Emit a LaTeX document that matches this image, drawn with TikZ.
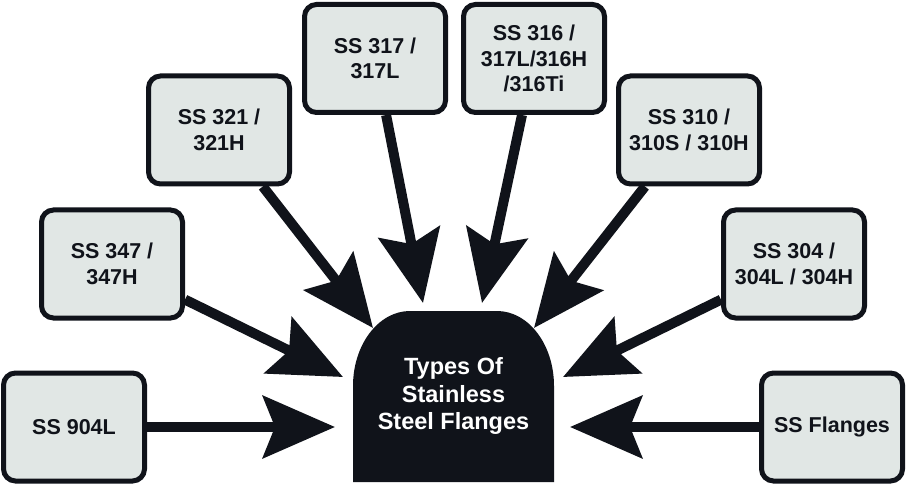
\documentclass[tikz,border=0pt]{standalone}
\usepackage{fontspec}
\setmainfont{Liberation Sans}
\usetikzlibrary{arrows.meta}
\definecolor{ink}{HTML}{10131A}
\definecolor{boxfill}{HTML}{E1E7E5}
\pgfdeclarelayer{background}
\pgfsetlayers{background,main}
\begin{document}
\begin{tikzpicture}[x=1pt,y=1pt,
  gbox/.style={draw=ink, line width=5pt, fill=boxfill, rounded corners=12pt,
    minimum width=141pt, minimum height=108pt, inner sep=0pt, align=center,
    font=\bfseries\fontsize{21.5}{25.5}\selectfont, text=ink},
  feed/.style={draw=ink, line width=10pt,
    -{Stealth[length=72pt,width=62pt,inset=12pt]}},
  hubtext/.style={text=white, align=center, inner sep=0pt,
    font=\bfseries\fontsize{23.5}{27.5}\selectfont}]
\useasboundingbox (0,0) rectangle (907,485);
% central shape
\fill[ink] (353,3) -- (353,99) arc[start angle=180, end angle=90, x radius=57, y radius=75]
  -- (497,174) arc[start angle=90, end angle=0, x radius=57, y radius=75] -- (554,3) -- cycle;
\node[hubtext] (hub) at (453.5,89) {Types Of\\Stainless\\Steel Flanges};
% boxes
\node[gbox] (b904) at (74,58) {SS 904L};
\node[gbox] (bfl) at (832,58) {SS Flanges};
\node[gbox] (b347) at (112,221) {SS 347 /\\347H};
\node[gbox] (b304) at (794,221) {SS 304 /\\304L / 304H};
\node[gbox] (b321) at (219,355) {SS 321 /\\321H};
\node[gbox] (b310) at (689,355) {SS 310 /\\310S / 310H};
\node[gbox] (b317) at (375,426.5) {SS 317 /\\317L};
\node[gbox] (b316) at (534,426.5) {SS 316 /\\317L/316H\\/316Ti};
% arrow tips
\coordinate (t904) at (335,58);
\coordinate (tfl) at (570,58);
\coordinate (t347) at (343,108);
\coordinate (t304) at (563,108);
\coordinate (t321) at (373,157);
\coordinate (t310) at (534,157);
\coordinate (t317) at (423,182);
\coordinate (t316) at (482,182);
\begin{pgfonlayer}{background}
\draw[feed] (b904) -- (t904);
\draw[feed] (bfl) -- (tfl);
\draw[feed] (b347) -- (t347);
\draw[feed] (b304) -- (t304);
\draw[feed] (b321) -- (t321);
\draw[feed] (b310) -- (t310);
\draw[feed] (b317) -- (t317);
\draw[feed] (b316) -- (t316);
\end{pgfonlayer}
\end{tikzpicture}
\end{document}
